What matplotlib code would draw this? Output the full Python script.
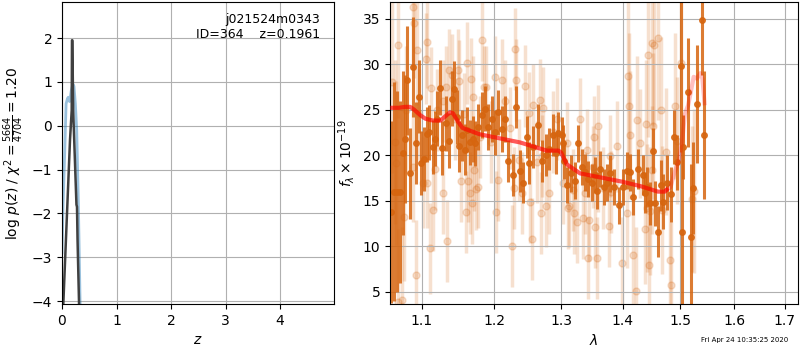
import numpy as np
import matplotlib
matplotlib.use('Agg')
import matplotlib.pyplot as plt
from matplotlib.ticker import FixedLocator, NullLocator, FormatStrFormatter

# p(z) curves (left panel)
z_fine = [0.0, 0.02, 0.05, 0.075, 0.10, 0.115, 0.14, 0.17, 0.20, 0.22, 0.245, 0.27, 0.30, 0.33, 0.36]
logp_fine = [-2.9, -1.8, -0.6, 0.5, 0.62, 0.65, 0.55, 0.8, 0.95, 0.9, 0.5, -0.1, -1.75, -3.9, -6.0]
z_coarse = [0.0, 0.147, 0.178, 0.183, 0.19, 0.205, 0.265, 0.275, 0.285, 0.34]
logp_coarse = [-4.8, -0.32, 0.35, 1.95, 1.95, 0.35, -1.8, -1.85, -2.6, -5.5]

# spectrum, individual (faint) points
light_wave = [1.061, 1.065, 1.067, 1.069, 1.0695, 1.0747, 1.0767, 1.080, 1.0885, 1.089, 1.0905,
              1.0925, 1.0937, 1.096, 1.1016, 1.106, 1.1065, 1.107, 1.111, 1.113, 1.1154, 1.1177,
              1.121, 1.128, 1.129, 1.1324, 1.1345, 1.136, 1.1402, 1.145, 1.1487, 1.1505, 1.1535,
              1.157, 1.160, 1.161, 1.163, 1.1656, 1.167, 1.169, 1.170, 1.1711, 1.174, 1.1772,
              1.180, 1.183, 1.185, 1.188, 1.195, 1.201, 1.2025, 1.2058, 1.2106, 1.215, 1.2226,
              1.2255, 1.2285, 1.2302, 1.2322, 1.2366, 1.2405, 1.2445, 1.2508, 1.2525, 1.255,
              1.2574, 1.2623, 1.2675, 1.269, 1.270, 1.272, 1.277, 1.282, 1.288, 1.2935, 1.3037,
              1.3089, 1.311, 1.313, 1.3184, 1.321, 1.3247, 1.3301, 1.3354, 1.338, 1.3407, 1.342,
              1.345, 1.3515, 1.3531, 1.3541, 1.358, 1.359, 1.3595, 1.3677, 1.3776, 1.3786, 1.380,
              1.3897, 1.3981, 1.4065, 1.4093, 1.4095, 1.4121, 1.4177, 1.4223, 1.4234, 1.4291,
              1.4377, 1.4394, 1.4404, 1.4435, 1.4452, 1.4464, 1.4493, 1.450, 1.452, 1.4533,
              1.4597, 1.465, 1.4678, 1.4751, 1.482, 1.483, 1.4906, 1.4936, 1.5004, 1.521, 1.5241]
light_flux = [28.0, 21.4, 19.1, 32.1, 3.9, 4.1, 13.2, 25.0, 18.7, 36.3, 34.5,
              6.9, 31.5, 24.5, 17.0, 30.6, 17.0, 32.4, 9.8, 27.4, 14.0, 18.5,
              25.0, 15.9, 26.0, 27.5, 10.6, 29.3, 28.8, 24.0, 29.3, 28.1, 17.2,
              24.5, 13.8, 30.1, 17.2, 15.8, 28.4, 14.7, 26.4, 18.4, 16.3, 16.5,
              22.0, 32.6, 27.5, 27.5, 21.5, 28.6, 13.8, 17.3, 28.2, 26.0, 23.0,
              10.0, 16.4, 31.6, 28.3, 19.5, 15.9, 27.6, 24.6, 14.9, 10.8,
              25.5, 19.2, 26.1, 13.7, 19.9, 25.2, 14.4, 15.8, 22.5, 24.0, 16.9,
              21.3, 14.2, 14.4, 16.2, 13.7, 12.7, 24.0, 13.1, 15.8, 20.6, 8.7,
              12.9, 18.7, 22.0, 12.1, 8.7, 23.2, 18.3, 16.4, 12.2, 19.9, 16.0,
              21.0, 8.2, 13.6, 28.7, 25.4, 22.2, 9.0, 5.1, 23.9, 21.3,
              11.9, 23.4, 14.2, 31.0, 7.9, 13.9, 32.3, 18.4, 23.2, 32.1,
              32.9, 25.0, 14.0, 20.4, 8.5, 5.7, 25.4, 21.6, 30.1, 15.2, 16.1]
light_err = [10, 9, 9, 8, 8, 8, 7, 7, 6, 7, 6,
             6, 6, 5, 5, 5, 5, 5, 5, 4.5, 4.5, 4.5,
             4.5, 4.5, 4.5, 4.5, 4.5, 4.5, 4.5, 4.5, 4.5, 4.5, 4.5,
             4.5, 4.5, 4.5, 4.5, 4.5, 4.5, 4.5, 4.5, 4.5, 4.5, 4.5,
             4.5, 4.5, 4.5, 4.5, 4.5, 4.5, 4.5, 4.5, 4.5, 4.5, 4.5,
             4.5, 4.5, 4.5, 4.5, 4.5, 4.5, 4.5, 4.5, 4.5, 4.5,
             4.5, 4.5, 4.5, 4.5, 4.5, 4.5, 4.5, 4.5, 4.5, 4.5, 4.5,
             4.5, 4.5, 4.5, 4.5, 4.5, 4.5, 4.5, 4.5, 4.5, 4.5, 4.5,
             4.5, 4.5, 4.5, 4.5, 4.5, 4.5, 4.5, 4.5, 4.5, 4.5, 4.5,
             5, 5, 6, 9, 8, 7, 6, 7, 7, 6,
             6, 7, 7, 9, 7, 7, 9, 7, 8, 9,
             9, 8, 7, 7, 7, 7, 8, 7, 9, 8, 9]

# spectrum, binned (dark) points
dark_wave = [1.060, 1.0635, 1.0684, 1.0718, 1.075, 1.0782, 1.0812, 1.0851, 1.089, 1.0925, 1.096,
             1.0995, 1.1035, 1.107, 1.1101, 1.1146, 1.1177, 1.121, 1.1244, 1.1275, 1.132, 1.137,
             1.1402, 1.1434, 1.148, 1.151, 1.154, 1.1586, 1.162, 1.1656, 1.1703, 1.1725, 1.1772,
             1.1819, 1.1866, 1.1914, 1.1961, 1.201, 1.2058, 1.2106, 1.2154, 1.2203, 1.2266,
             1.2316, 1.2375, 1.2424, 1.2474, 1.2514, 1.2574, 1.265, 1.2701, 1.2768, 1.282,
             1.2872, 1.2924, 1.296, 1.3011, 1.303, 1.3047, 1.3099, 1.3152, 1.322, 1.3273,
             1.3327, 1.338, 1.3433, 1.3488, 1.3541, 1.358, 1.3622, 1.3687, 1.3742, 1.3786,
             1.3852, 1.3941, 1.4009, 1.4065, 1.4121, 1.4177, 1.4261, 1.4335, 1.4375, 1.4418,
             1.4464, 1.451, 1.455, 1.4608, 1.4647, 1.4694, 1.4753, 1.4824, 1.4889, 1.493,
             1.5002, 1.5033, 1.5051, 1.5142, 1.5184, 1.5232, 1.5293, 1.5391, 1.5434]
dark_flux = [13.8, 16.0, 16.0, 16.0, 20.2, 21.8, 28.2, 18.0, 29.7, 21.3, 26.4,
             19.1, 19.6, 22.3, 22.5, 20.9, 21.8, 24.0, 27.4, 20.8, 23.5, 21.6,
             26.2, 27.3, 24.2, 21.0, 22.2, 20.6, 22.8, 21.4, 21.8, 21.3, 23.1,
             24.4, 25.1, 23.1, 24.0, 22.5, 24.7, 22.9, 24.0, 19.4, 17.8,
             25.3, 18.3, 17.0, 22.0, 19.1, 20.9, 23.3, 19.4, 20.0, 20.7,
             22.2, 20.2, 22.4, 22.2, 21.3, 19.4, 16.7, 18.0, 17.2, 21.3,
             18.7, 18.1, 17.4, 17.0, 17.8, 16.1, 18.5, 16.5, 17.0, 18.0,
             16.5, 14.5, 16.5, 18.3, 18.1, 15.4, 18.5, 17.8, 15.9, 16.5,
             14.7, 20.5, 14.7, 11.6, 16.7, 14.9, 17.0, 15.7, 22.0, 19.2,
             29.8, 11.6, 20.9, 26.9, 11.0, 16.4, 25.6, 34.8, 22.2]
dark_err = [10, 12, 11, 10, 9, 7, 6, 5, 5.5, 4.5, 4,
            3.5, 3.5, 3, 3, 3, 3, 3, 3, 3, 3, 3,
            3, 3, 3, 2.8, 2.8, 2.8, 2.5, 2.5, 2.5, 2.5, 2.5,
            2.5, 2.5, 2.5, 2.5, 2.5, 2.5, 2.5, 2.5, 2.3, 2.3,
            2.3, 2.3, 2.3, 2.3, 2.3, 2.3, 2.3, 2.3, 2.3, 2.3,
            2.3, 2.3, 2.3, 2.0, 2.0, 2.0, 2.0, 2.0, 2.0, 2.0,
            2.0, 2.0, 2.0, 2.0, 2.0, 2.0, 2.0, 2.0, 2.0, 2.0,
            2.0, 2.0, 2.0, 2.0, 2.0, 2.0, 2.2, 2.2, 2.2, 2.2,
            2.4, 2.5, 2.5, 2.8, 2.8, 3.0, 3.0, 3.0, 3.0, 3.0,
            9.5, 9, 3.5, 6, 8, 5, 6.5, 6, 7]

# model
model_wave = [1.062, 1.07, 1.078, 1.085, 1.09, 1.098, 1.105, 1.115, 1.125, 1.132, 1.138, 1.142,
              1.148, 1.155, 1.165, 1.179, 1.198, 1.2375, 1.278, 1.296, 1.300, 1.309, 1.33,
              1.36, 1.398, 1.43, 1.46, 1.472, 1.4753]
model_flux = [25.2, 25.2, 25.3, 25.3, 25.0, 24.4, 24.0, 23.8, 23.8, 24.3, 24.7, 24.6,
              23.8, 23.0, 22.7, 22.3, 22.0, 21.4, 20.5, 20.5, 20.3, 19.0, 18.0,
              17.6, 17.1, 16.6, 16.0, 16.0, 16.2]
tail_wave = [1.4753, 1.4824, 1.4889, 1.497, 1.503, 1.508, 1.514, 1.519, 1.524, 1.530, 1.536, 1.540, 1.544]
tail_flux = [16.2, 16.5, 18.0, 19.4, 21.5, 24.5, 25.5, 27.0, 28.6, 28.4, 29.0, 28.4, 25.7]

orange = '#d6650f'

fig = plt.figure(figsize=(8, 3.5), dpi=100)
ax1 = fig.add_axes([0.0775, 0.131, 0.34, 0.863])
ax2 = fig.add_axes([0.4875, 0.131, 0.51, 0.863])

# left: p(z)
ax1.plot(z_fine, logp_fine, color='#1f77b4', alpha=0.45, lw=2)
ax1.plot(z_coarse, logp_coarse, color='0.25', lw=1.8)
ax1.set_xlim(0, 4.99)
ax1.set_ylim(-4.07, 2.82)
ax1.set_xticks([0, 1, 2, 3, 4])
ax1.set_yticks([-4, -3, -2, -1, 0, 1, 2])
ax1.grid(True)
ax1.set_xlabel('$z$')
ax1.set_ylabel(r'log $p(z)$ / $\chi^2=\frac{5664}{4704}=1.20$')
ax1.text(0.95, 0.965, 'j021524m0343\nID=364    z=0.1961', ha='right', va='top',
         fontsize=9, transform=ax1.transAxes, multialignment='right')

# right: spectrum
ax2.errorbar(light_wave, light_flux, yerr=light_err, color=orange, alpha=0.2,
             marker='o', ms=5, linestyle='None', elinewidth=2.5, zorder=1)
ax2.errorbar(dark_wave, dark_flux, yerr=dark_err, color=orange, alpha=0.85,
             marker='o', ms=4, linestyle='None', elinewidth=2.2, zorder=2)
ax2.plot(model_wave, model_flux, color='r', alpha=0.65, lw=3, zorder=3)
ax2.plot(tail_wave, tail_flux, color='r', alpha=0.25, lw=3, zorder=3)
ax2.set_xscale('log')
ax2.xaxis.set_major_locator(FixedLocator([1.1, 1.2, 1.3, 1.4, 1.5, 1.6, 1.7]))
ax2.xaxis.set_major_formatter(FormatStrFormatter('%.1f'))
ax2.xaxis.set_minor_locator(NullLocator())
ax2.set_xlim(1.059, 1.727)
ax2.set_ylim(3.65, 36.8)
ax2.grid(True)
ax2.set_xlabel(r'$\lambda$')
ax2.set_ylabel(r'$f_\lambda \times 10^{-19}$')

fig.text(0.985, 0.02, 'Fri Apr 24 10:35:25 2020', ha='right', va='bottom', fontsize=5)

fig.savefig('out.png', dpi=100)
